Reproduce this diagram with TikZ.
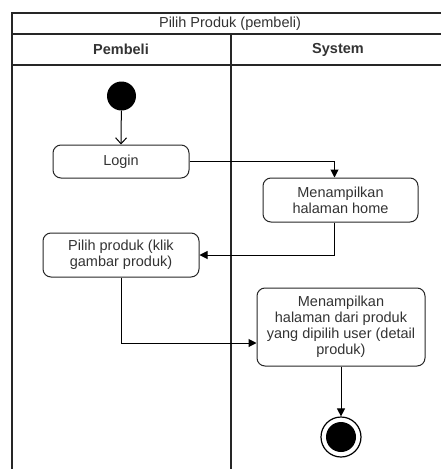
\documentclass[tikz,border=0pt]{standalone}
\usepackage{fontspec}
\setmainfont{Liberation Sans}
\usetikzlibrary{arrows.meta}
\begin{document}
\begin{tikzpicture}[x=1pt,y=-1pt,
  frame/.style={draw=black!85,line width=1.3pt},
  act/.style={draw=black!85,line width=1pt,rounded corners=8pt,align=center,
    font=\fontsize{14.5}{16}\selectfont,text=black!80,inner sep=0pt},
  flow/.style={draw=black,line width=1pt,-{Triangle[length=8pt,width=8pt]}},
  openflow/.style={draw=black,line width=1pt,-{Straight Barb[length=6pt,width=11pt]}},
  lbl/.style={font=\fontsize{14.5}{16}\selectfont,text=black!80}]
\useasboundingbox (0,0) rectangle (440,469);
% pool frame
\draw[frame] (445,13) -- (12,13) -- (12,475);
\draw[frame] (12,34) -- (445,34);
\draw[frame] (12,65) -- (445,65);
\draw[frame] (231,34) -- (231,475);
\node[lbl] (title) at (230,23.5) {Pilih Produk (pembeli)};
\node[lbl,font=\fontsize{14.5}{16}\selectfont\bfseries] (lane1) at (121,49.5) {Pembeli};
\node[lbl,font=\fontsize{14.5}{16}\selectfont\bfseries] (lane2) at (338,49.5) {System};
% nodes
\node[circle,fill=black,minimum size=29pt,inner sep=0pt] (start) at (121.5,96) {};
\node[act,minimum width=136pt,minimum height=33pt] (login) at (121,161.5) {Login};
\node[act,minimum width=155pt,minimum height=44pt] (home) at (340.5,200) {Menampilkan\\halaman home};
\node[act,minimum width=156pt,minimum height=44pt] (pilih) at (121,255) {Pilih produk (klik\\gambar produk)};
\node[act,minimum width=168pt,minimum height=78pt] (detail) at (341,327) {Menampilkan\\halaman dari produk\\yang dipilih user (detail\\produk)};
\node[circle,draw=black,line width=1.2pt,fill=white,minimum size=40pt,inner sep=0pt] (end) at (341,437) {};
\node[circle,fill=black,minimum size=30pt,inner sep=0pt] (endin) at (end.center) {};
% edges
\draw[openflow] (start) -- (login.north);
\draw[flow] (login.east) -| ([xshift=-6pt]home.north);
\draw[flow] ([xshift=-6pt]home.south) |- (pilih.east);
\draw[flow] (pilih.south) |- ([yshift=-16pt]detail.west);
\draw[flow] (detail.south) -- (end.north);
\end{tikzpicture}
\end{document}
